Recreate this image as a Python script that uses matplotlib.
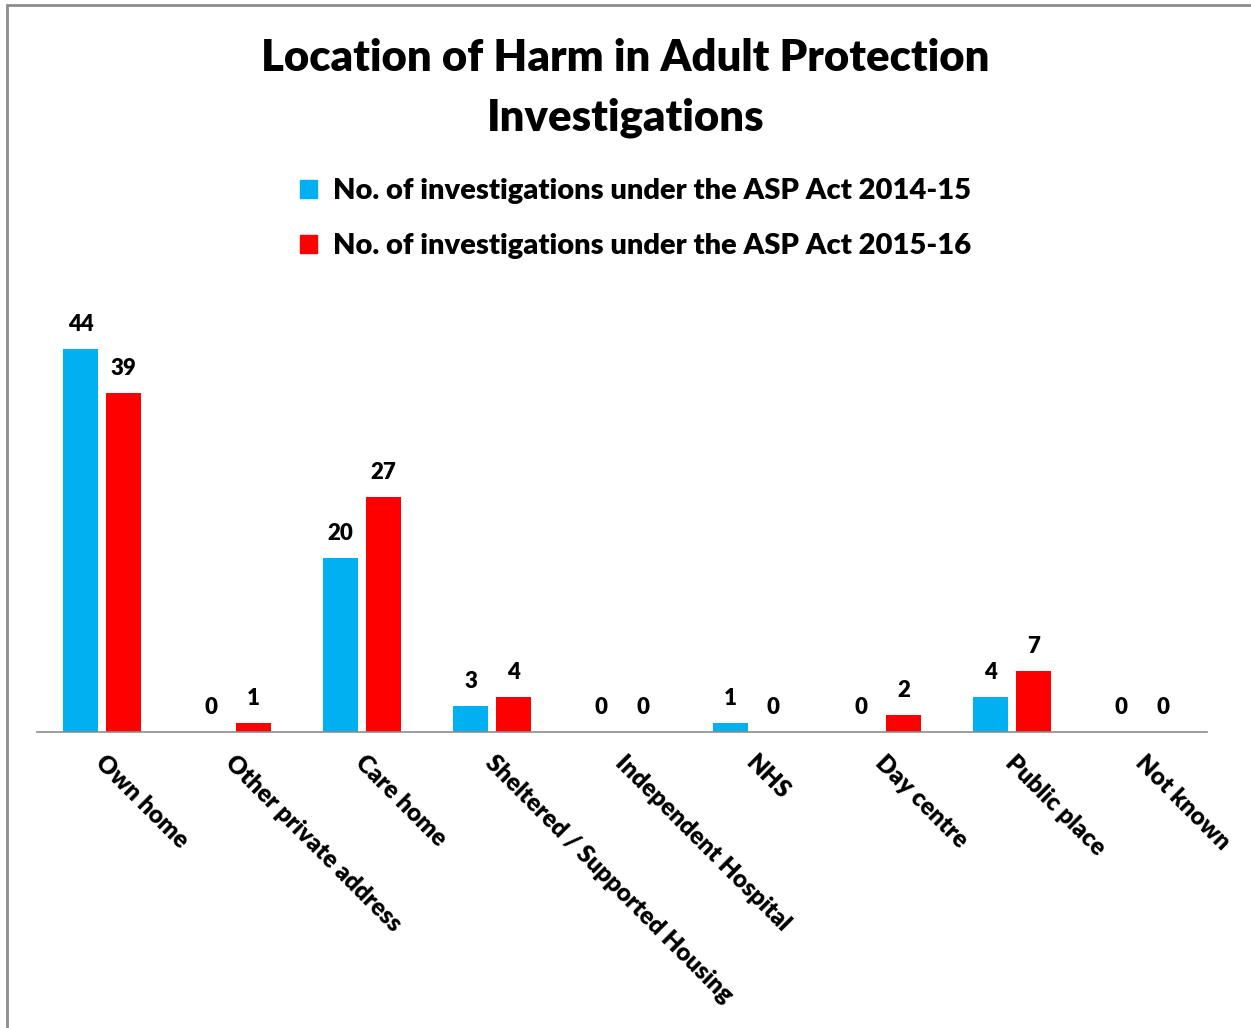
import matplotlib
matplotlib.use("Agg")
import matplotlib.pyplot as plt
from matplotlib.patches import Patch, Rectangle
from matplotlib.transforms import ScaledTranslation
import numpy as np

# Chart data
categories = ["Own home", "Other private address", "Care home",
              "Sheltered / Supported Housing", "Independent Hospital", "NHS",
              "Day centre", "Public place", "Not known"]
inv_2014_15 = [44, 0, 20, 3, 0, 1, 0, 4, 0]
inv_2015_16 = [39, 1, 27, 4, 0, 0, 2, 7, 0]
series_labels = ["No. of investigations under the ASP Act 2014-15",
                 "No. of investigations under the ASP Act 2015-16"]

plt.rcParams['font.family'] = ['Lato', 'DejaVu Sans']

W, H = 1251, 1028
fig = plt.figure(figsize=(W / 100, H / 100), dpi=100)

# outer chart border (left and top visible)
fig.patches.append(Rectangle((6.5 / W, -0.01), 1.1, (H - 5) / H + 0.01,
                             transform=fig.transFigure, fill=False,
                             edgecolor='#8c8c8c', linewidth=2))

# axes: baseline at y=732, x from 37 to 1207
ax = fig.add_axes([37 / W, (H - 732) / H, 1170 / W, 435 / H])
x = np.arange(len(categories))
w = 0.27
b1 = ax.bar(x - 0.165, inv_2014_15, w, color='#00B0F0')
b2 = ax.bar(x + 0.165, inv_2015_16, w, color='#FF0000')
ax.bar_label(b1, padding=10, fontsize=16, fontweight='heavy')
ax.bar_label(b2, padding=10, fontsize=16, fontweight='heavy')

ax.set_xlim(-0.5, len(categories) - 0.5)
ax.set_ylim(0, 50)
ax.set_yticks([])
ax.set_xticks(x)
ax.set_xticklabels(categories, rotation=-45, ha='left', va='top',
                   rotation_mode='anchor', fontsize=17.5, fontweight='heavy')
ax.tick_params(axis='x', length=0, pad=14)
shift = ScaledTranslation(5 / 100, 0, fig.dpi_scale_trans)
for lbl in ax.get_xticklabels():
    lbl.set_transform(lbl.get_transform() + shift)
for s in ['top', 'right', 'left']:
    ax.spines[s].set_visible(False)
ax.spines['bottom'].set_color('#8c8c8c')
ax.spines['bottom'].set_linewidth(1.2)

fig.text(0.5, (H - 88) / H, "Location of Harm in Adult Protection\nInvestigations",
         ha='center', va='center', fontsize=31.4, fontweight='heavy',
         linespacing=1.58)

handles = [Patch(color='#00B0F0'), Patch(color='#FF0000')]
fig.legend(handles, series_labels, loc='upper center',
           bbox_to_anchor=(0.5 + 10 / W, (H - 152) / H), frameon=False,
           prop={'size': 21, 'weight': 'heavy'}, handlelength=0.6,
           handleheight=0.6, handletextpad=0.55, labelspacing=1.0)

fig.savefig("out.png", dpi=100)
